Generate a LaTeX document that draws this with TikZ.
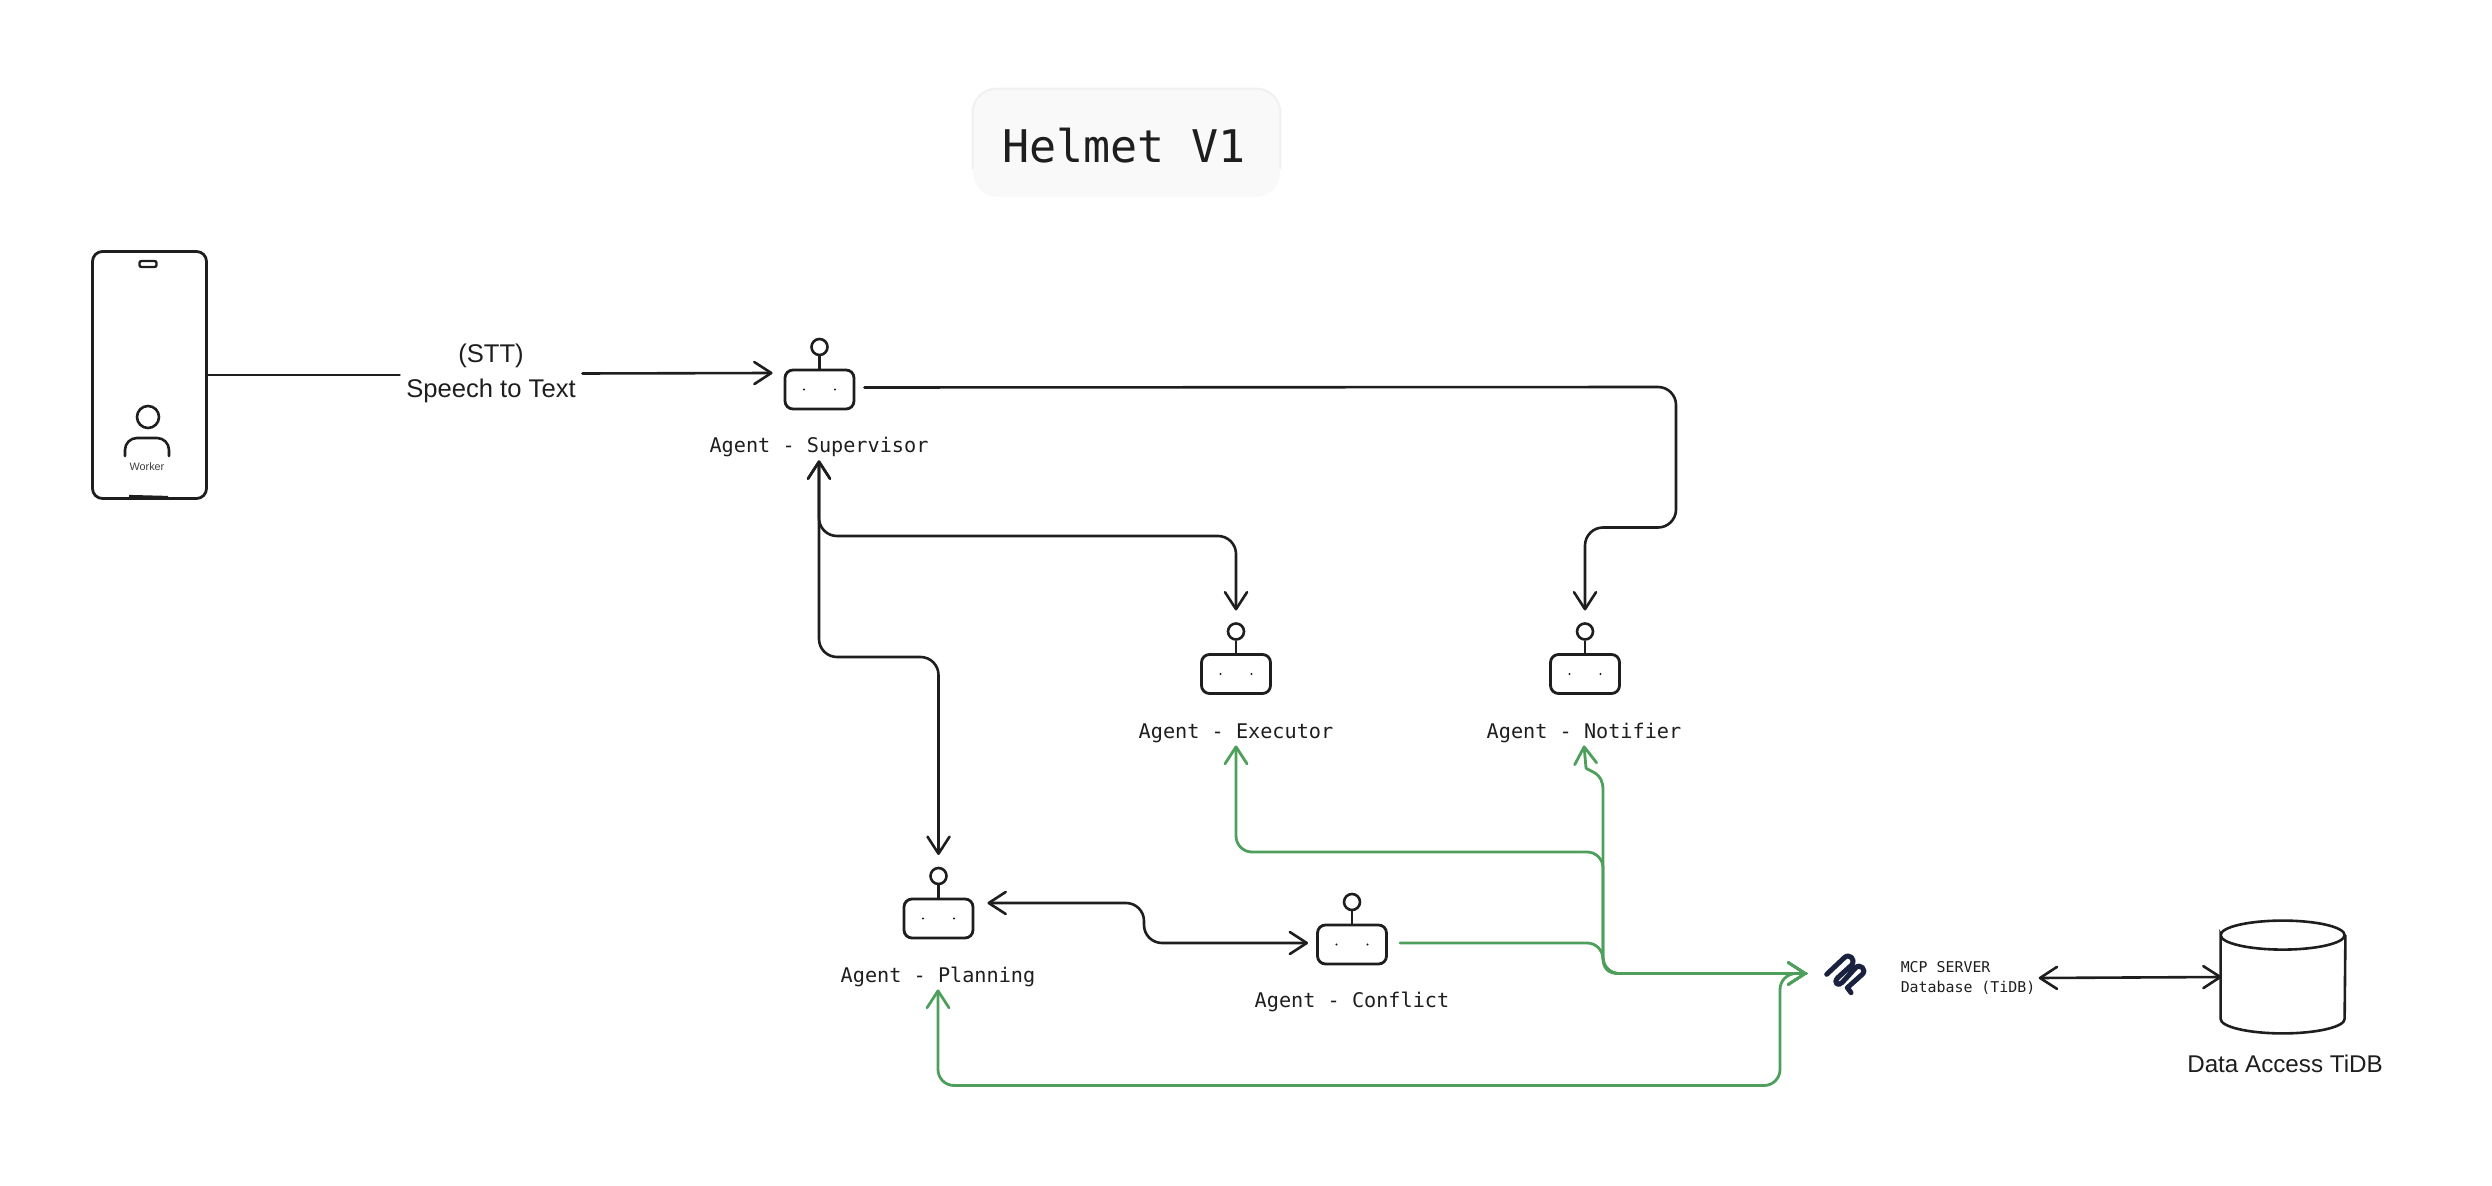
\documentclass[tikz,border=0pt]{standalone}
\usepackage{fontspec}
\setmainfont{Liberation Sans}
\newfontfamily\monof{DejaVu Sans Mono}
\usetikzlibrary{arrows.meta}
\definecolor{ink}{HTML}{1E1E1E}
\definecolor{grn}{HTML}{4F9F5C}
\definecolor{navy}{HTML}{1B2240}
\tikzset{
  x=0.5pt,y=-0.5pt,
  conn/.style={draw=ink,line width=1.3pt,line cap=round,line join=round,rounded corners=9pt},
  gconn/.style={draw=grn,line width=1.4pt,line cap=round,line join=round,rounded corners=8pt},
  tip/.style={-{Straight Barb[length=8.5pt,width=11pt,round]}},
  tips/.style={{Straight Barb[length=8.5pt,width=11pt,round]}-{Straight Barb[length=8.5pt,width=11pt,round]}},
  botbody/.style={draw=ink,line width=1.4pt,rounded corners=4pt,minimum width=34.5pt,minimum height=19.5pt,inner sep=0pt},
  antenna/.style={draw=ink,line width=1.3pt,circle,minimum size=8pt,inner sep=0pt},
  botlabel/.style={font=\monof\fontsize{10.1}{12}\selectfont,text=ink,inner sep=0pt,minimum height=12.5pt,text height=7.5pt,text depth=2pt},
  sans/.style={text=ink,inner sep=0pt,align=center},
}
\newcommand{\agentbot}[6]{%
  \node[botbody] (#1) at (#2,#3) {};
  \node[antenna] (#1-ant) at (#2,#3-42.5) {};
  \draw[draw=ink,line width=1.2pt] (#1-ant.south) -- (#1.north);
  \fill[ink] (#2-15.5,#3) circle (0.55pt) (#2+15.5,#3) circle (0.55pt);
  \coordinate (#1-top) at (#2,#3-63.5);
  \node[botlabel] (#1-lab) at (#4,#5+1.5) {Agent - #6};
}
\begin{document}
\begin{tikzpicture}
\useasboundingbox (0,0) rectangle (2492,1186);
% title
\node[fill=black!2.5,rounded corners=12pt,minimum width=153.5pt,minimum height=54pt,inner sep=0pt] (title) at (1126.5,143) {};
\draw[black!6,line width=1pt,rounded corners=12pt] ([yshift=14pt]title.south west) -- (title.north west) -- (title.north east) -- ([yshift=14pt]title.south east);
\node[font=\monof\fontsize{22.5}{26}\selectfont,text=ink,inner sep=0pt] (titletxt) at (1124,146) {Helmet V1};
% phone
\node[draw=ink,line width=1.4pt,rounded corners=5pt,minimum width=57pt,minimum height=123.5pt,inner sep=0pt] (phone) at (149.5,375) {};
\node[draw=ink,line width=1.2pt,rounded corners=1pt,minimum width=8.5pt,minimum height=3pt,inner sep=0pt] (speaker) at (148,264) {};
\node[draw=ink,line width=1.3pt,circle,minimum size=11pt,inner sep=0pt] (head) at (148,417) {};
\draw[ink,line width=1.3pt,rounded corners=6pt,line cap=round] (125,456) -- (125,438) -- (169,438) -- (169,456);
\node[sans,font=\fontsize{5.4}{6}\selectfont,text=ink!85] (worker) at (147,467) {Worker};
\draw[ink,line width=1.6pt] (129,496.5) -- (168,497.5);
% agents
\agentbot{sup}{819.5}{389.5}{819}{446}{Supervisor}
\agentbot{exe}{1236}{674}{1236}{731}{Executor}
\agentbot{not}{1585}{674}{1584}{731}{Notifier}
\agentbot{pla}{938.5}{918.5}{938}{975}{Planning}
\agentbot{con}{1352}{944.5}{1352}{1000.5}{Conflict}
% labels
\node[sans,font=\fontsize{12.8}{17.5}\selectfont,minimum width=91pt,minimum height=20pt] (stt) at (491,373) {(STT)\\Speech to Text};
% mcp
\node[minimum size=28pt,inner sep=0pt] (mcp) at (1846,975) {};
\draw[navy,line width=2.5pt,line cap=round,line join=round]
  (1826.7,974.3) -- (1844.3,957.7) .. controls (1849,953) and (1856,959) .. (1851.7,965)
  -- (1837.7,977.7) .. controls (1833,983) and (1838,987) .. (1842.3,982.3)
  -- (1855.7,967.7) .. controls (1860,963) and (1867,970) .. (1862.3,974.3)
  -- (1847.3,987.7) -- (1851,992.7);
\node[font=\monof\fontsize{7.45}{10}\selectfont,text=ink,inner sep=0pt,align=left] (mcptxt) at (1968,978) {MCP SERVER\\Database (TiDB)};
% database
\node[minimum width=62pt,minimum height=56pt,inner sep=0pt] (db) at (2283,977) {};
\draw[ink,line width=1.3pt] ([yshift=-7.25pt]db.north west) arc[x radius=31pt,y radius=7.25pt,start angle=180,end angle=-180]
  -- ([yshift=7.25pt]db.south west) arc[x radius=31pt,y radius=7.25pt,start angle=180,end angle=360]
  -- ([yshift=-7.25pt]db.north east);
\node[sans,font=\fontsize{12.1}{14}\selectfont] (dblab) at (2285,1064) {Data Access TiDB};
% black connectors
\draw[conn] (phone.east) -- ([yshift=-1pt]stt.west);
\draw[conn,tip] ([yshift=-.25pt]stt.east) -- ([xshift=-5.5pt,yshift=8.25pt]sup.west);
\draw[conn,tip] ([xshift=4.5pt,yshift=1pt]sup.east) -- (1676,387) -- (1676,527.5) -- (1585,527.5) -- (not-top);
\draw[conn,tips] (sup-lab.south) -- (819,536) -- (1236,536) -- (exe-top);
\draw[conn,tips] (sup-lab.south) -- (819,657) -- (938.5,657) -- (pla-top);
\draw[conn,tips] ([xshift=6.5pt,yshift=7.75pt]pla.east) -- (1144,903) -- (1144,943) -- ([xshift=-4pt,yshift=.75pt]con.west);
\draw[conn,tips,rounded corners=0pt] ([xshift=1.5pt]mcptxt.east) -- ([xshift=.5pt]db.west);
% green connectors
\draw[gconn,tip] ([xshift=6pt,yshift=.75pt]con.east) -- (1603,943) -- (1603,973.5) -- ([xshift=-5.5pt,yshift=.75pt]mcp.west);
\draw[gconn,tips] (exe-lab.south) -- (1236,852) -- (1603,852) -- (1603,973.5) -- ([xshift=-5.5pt,yshift=.75pt]mcp.west);
\draw[gconn,tip,rounded corners=0pt] ([xshift=-5.5pt,yshift=.75pt]mcp.west) -- (1618,973.5) .. controls (1608,973.5) and (1603,968) .. (1603,958) -- (1603,790) .. controls (1603,772) and (1590,772) .. (1586,768) -- (not-lab.south);
\draw[gconn,tips] (pla-lab.south) -- (938,1085.5) -- (1780,1085.5) -- (1780,973.5) -- ([xshift=-5.5pt,yshift=.75pt]mcp.west);
\end{tikzpicture}
\end{document}
